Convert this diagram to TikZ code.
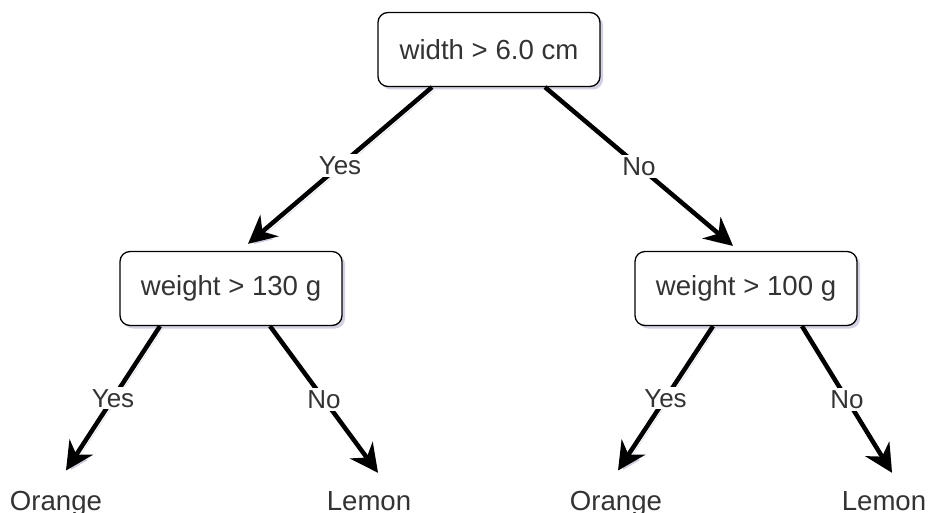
\documentclass[tikz,border=0pt]{standalone}
\usepackage{fontspec}
\setmainfont{Liberation Sans}
\usetikzlibrary{arrows.meta,shadows}
\definecolor{shadowc}{rgb}{0.55,0.55,0.72}
\definecolor{txt}{rgb}{0.2,0.2,0.2}
\begin{document}
\begin{tikzpicture}[x=1pt,y=-1pt,
  box/.style={draw=black, line width=1.3pt, rounded corners=10pt, fill=white,
    minimum width=222pt, minimum height=74pt, inner sep=0pt,
    font=\fontsize{27.6}{33}\selectfont, text=txt,
    drop shadow={shadow xshift=3pt, shadow yshift=-3pt, opacity=0.4, fill=shadowc}},
  leaf/.style={font=\fontsize{27.6}{33}\selectfont, text=txt, anchor=base, inner sep=0pt},
  conn/.style={line width=4.5pt, -{Stealth[length=28pt,width=28pt,inset=9pt]},
    preaction={draw=shadowc, opacity=0.4, transform canvas={shift={(2.5pt,-3pt)}}}},
  lab/.style={fill=white, font=\fontsize{26}{30}\selectfont, text=txt, inner sep=2pt}]
\useasboundingbox (0,0) rectangle (931,513);

\node[box] (root) at (489,49.5) {width > 6.0 cm};
\node[box] (lw) at (231,288.5) {weight > 130 g};
\node[box] (rw) at (746,288.5) {weight > 100 g};

\node[leaf] (o1) at (56,510) {Orange};
\node[leaf] (l1) at (369,510) {Lemon};
\node[leaf] (o2) at (616,510) {Orange};
\node[leaf] (l2) at (884,510) {Lemon};

\draw[conn] ([xshift=-57pt]root.south) -- node[lab, midway] {Yes} ([xshift=17pt,yshift=7pt]lw.north);
\draw[conn] ([xshift=56pt]root.south) -- node[lab, midway] {No} ([xshift=-13pt,yshift=5pt]rw.north);

\draw[conn] ([xshift=-71pt]lw.south) -- node[lab, midway] {Yes} ([xshift=10pt,yshift=20pt]o1.north);
\draw[conn] ([xshift=39pt]lw.south) -- node[lab, midway] {No} ([xshift=9pt,yshift=18pt]l1.north);
\draw[conn] ([xshift=-33pt]rw.south) -- node[lab, midway] {Yes} ([xshift=2pt,yshift=20pt]o2.north);
\draw[conn] ([xshift=56pt]rw.south) -- node[lab, midway] {No} ([xshift=8pt,yshift=18pt]l2.north);
\end{tikzpicture}
\end{document}
